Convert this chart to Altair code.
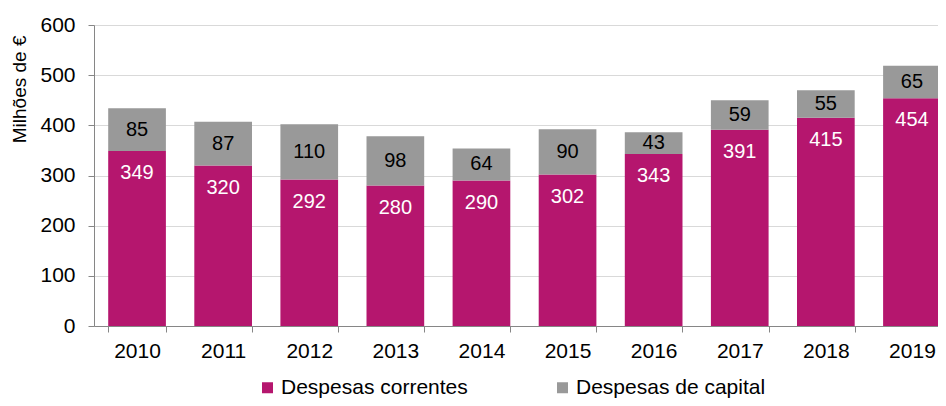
import altair as alt
import pandas as pd

years = ["2010", "2011", "2012", "2013", "2014", "2015", "2016", "2017", "2018", "2019"]
correntes = [349, 320, 292, 280, 290, 302, 343, 391, 415, 454]
capital = [85, 87, 110, 98, 64, 90, 43, 59, 55, 65]
series = ["Despesas correntes", "Despesas de capital"]
colors = ["#B5166E", "#999999"]
text_colors = ["white", "black"]

rows = []
for y, c, k in zip(years, correntes, capital):
    start = 0
    for i, (s, v) in enumerate(zip(series, [c, k])):
        end = start + v
        lab = end - 44 if i == 0 else (start + end) / 2
        rows.append({"ano": y, "serie": s, "valor": v, "ini": start, "fim": end,
                     "lab": lab, "ordem": i, "tcor": text_colors[i]})
        start = end
df = pd.DataFrame(rows)

FONT = "Liberation Sans"

x = alt.X("ano:N", title=None, sort=years,
          scale=alt.Scale(paddingInner=0.33, paddingOuter=0.165, range=[0, 861]),
          axis=alt.Axis(labelAngle=0, labelFontSize=21, labelPadding=8,
                        labelColor="black", labelFont=FONT,
                        tickBand="extent", tickSize=6, tickColor="#868686",
                        domainColor="#868686", grid=False))

bars = alt.Chart(df).mark_bar().encode(
    x=x,
    y=alt.Y("ini:Q", title="Milhões de €",
            scale=alt.Scale(domain=[0, 600]),
            axis=alt.Axis(values=[0, 100, 200, 300, 400, 500, 600],
                          labelFontSize=21, labelColor="black", labelFont=FONT,
                          labelPadding=13, tickSize=6, tickColor="#868686",
                          domainColor="#868686", gridColor="#d9d9d9",
                          titleFontSize=19, titleFont=FONT,
                          titleFontWeight="normal", titleColor="black",
                          titleAngle=270, titleAlign="right", titleBaseline="middle",
                          titleX=-75, titleY=10)),
    y2="fim:Q",
    color=alt.Color("serie:N", sort=series,
                    scale=alt.Scale(domain=series, range=colors),
                    legend=alt.Legend(title=None, orient="none", direction="horizontal",
                                      legendX=163, legendY=352, columns=2,
                                      columnPadding=84, symbolType="square",
                                      symbolSize=121, symbolStrokeWidth=0,
                                      labelFontSize=21, labelFont=FONT,
                                      labelColor="black", labelOffset=3,
                                      labelLimit=300)),
    order="ordem:Q",
)

labels = alt.Chart(df).mark_text(fontSize=20, font=FONT, baseline="middle").encode(
    x=alt.X("ano:N", sort=years),
    y=alt.Y("lab:Q"),
    text="valor:Q",
    color=alt.Color("tcor:N", scale=None),
)

chart = alt.layer(bars, labels).properties(
    width=844, height=301,
    autosize=alt.AutoSizeParams(type="none"),
    padding={"left": 86, "top": 17, "right": 0, "bottom": 72},
).configure_view(stroke=None).configure(background="white")

chart.save("out.html", embed_options={"renderer": "svg", "actions": False})
